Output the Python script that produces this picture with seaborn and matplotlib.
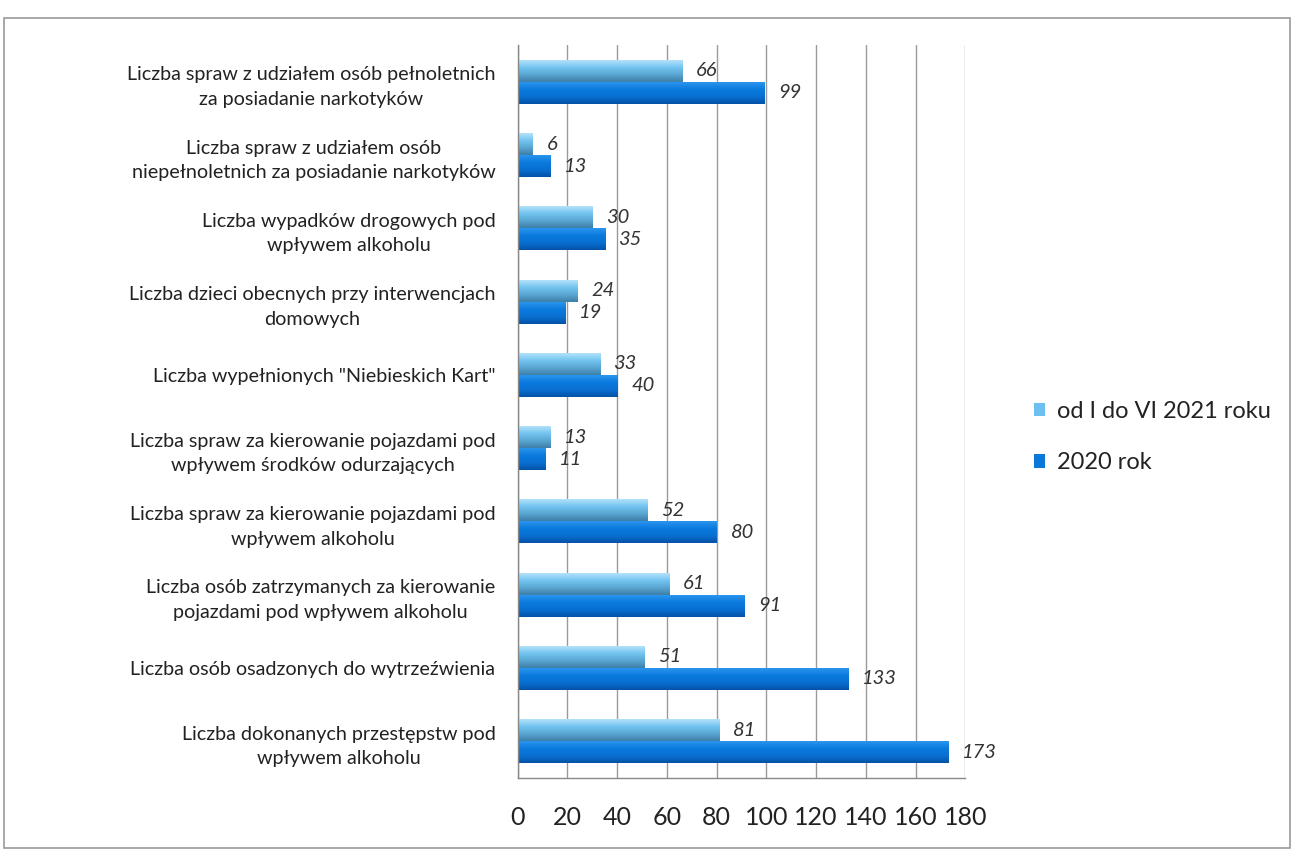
import matplotlib
matplotlib.use("Agg")
import matplotlib.pyplot as plt
import seaborn as sns
import pandas as pd
import numpy as np
from matplotlib.colors import LinearSegmentedColormap

categories = [
    "Liczba spraw z udziałem osób pełnoletnich\nza posiadanie narkotyków",
    "Liczba spraw z udziałem osób\nniepełnoletnich za posiadanie narkotyków",
    "Liczba wypadków drogowych pod\nwpływem alkoholu",
    "Liczba dzieci obecnych przy interwencjach\ndomowych",
    "Liczba wypełnionych \"Niebieskich Kart\"",
    "Liczba spraw za kierowanie pojazdami pod\nwpływem środków odurzających",
    "Liczba spraw za kierowanie pojazdami pod\nwpływem alkoholu",
    "Liczba osób zatrzymanych za kierowanie\npojazdami pod wpływem alkoholu",
    "Liczba osób osadzonych do wytrzeźwienia",
    "Liczba dokonanych przestępstw pod\nwpływem alkoholu",
]
series_names = ["od I do VI 2021 roku", "2020 rok"]
values_2021 = [66, 6, 30, 24, 33, 13, 52, 61, 51, 81]
values_2020 = [99, 13, 35, 19, 40, 11, 80, 91, 133, 173]
x_ticks = [0, 20, 40, 60, 80, 100, 120, 140, 160, 180]

df = pd.DataFrame({
    "cat": categories * 2,
    "series": [series_names[0]] * len(categories) + [series_names[1]] * len(categories),
    "value": values_2021 + values_2020,
})

sns.set_theme(style="white")
plt.rcParams["font.family"] = ["Lato", "DejaVu Sans"]

fig = plt.figure(figsize=(12.94, 8.51), dpi=100)
ax = fig.add_axes([0.400, 0.086, 0.346, 0.861])

palette = {series_names[0]: "#6cc0ef", series_names[1]: "#0a78da"}
sns.barplot(data=df, y="cat", x="value", hue="series", hue_order=series_names,
            order=categories, palette=palette, orient="h", width=0.6,
            saturation=1, ax=ax, legend=True, edgecolor="none")

# vertical gradient shading inside each bar
grad_maps = [
    LinearSegmentedColormap.from_list("light", ["#b4e2fa", "#72c4f0", "#5aa6d2", "#3d7fa8"]),
    LinearSegmentedColormap.from_list("dark", ["#2a95ee", "#0a7ade", "#0870d2", "#0552a6"]),
]
grad = np.linspace(0, 1, 64).reshape(-1, 1)
for cont, cmap in zip(ax.containers, grad_maps):
    for p in cont.patches:
        x0, y0 = p.get_x(), p.get_y()
        w, h = p.get_width(), p.get_height()
        im = ax.imshow(grad, cmap=cmap, aspect="auto", origin="upper",
                       extent=(x0, x0 + w, y0 + h, y0), zorder=p.get_zorder() + 0.1,
                       interpolation="bicubic")
        im.set_clip_path(p)

for cont in ax.containers:
    ax.bar_label(cont, padding=10, fontsize=14.5, fontstyle="italic", color="#333333")

ax.set_xlim(0, 180)
ax.set_ylim(len(categories) - 0.5, -0.5)
ax.set_aspect("auto")
ax.set_xticks(x_ticks)
ax.set_xticklabels([str(t) for t in x_ticks], fontsize=18, color="#222222")
ax.xaxis.grid(True, color="#9a9a9a", linewidth=1.0)
ax.set_axisbelow(True)
ax.set_xlabel("")
ax.set_ylabel("")

ax.set_yticks(range(len(categories)))
ax.set_yticklabels(categories, fontsize=14.2, color="#222222", multialignment="center",
                   linespacing=1.55)
ax.tick_params(axis="y", length=0, pad=16)
ax.set_yticks([i - 0.5 for i in range(len(categories) + 1)], minor=True)
ax.tick_params(axis="y", which="minor", length=6, color="#888888", direction="out")
ax.tick_params(axis="x", length=6, color="#888888", direction="out", pad=14)

for side in ["top", "right"]:
    ax.spines[side].set_visible(False)
for side in ["left", "bottom"]:
    ax.spines[side].set_color("#888888")
    ax.spines[side].set_linewidth(1.0)

leg = ax.legend(loc="center left", bbox_to_anchor=(1.105, 0.465), frameon=False,
                fontsize=17, handlelength=0.5, handleheight=0.5, labelspacing=1.3,
                handletextpad=0.5)
for t in leg.get_texts():
    t.set_color("#222222")

frame = plt.Rectangle((0.003, 0.004), 0.994, 0.975, transform=fig.transFigure,
                      fill=False, edgecolor="#9a9a9a", linewidth=1.2)
fig.patches.append(frame)

fig.savefig("out.png", dpi=100)
